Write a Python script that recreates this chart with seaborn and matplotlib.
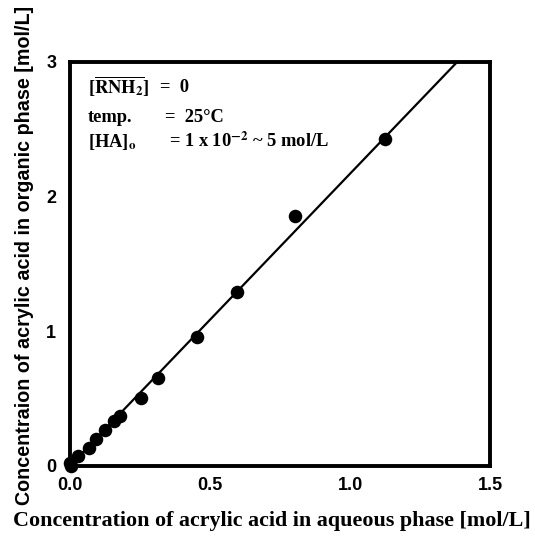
import matplotlib
matplotlib.use("Agg")
import matplotlib.pyplot as plt
import seaborn as sns
import pandas as pd

# Equilibrium data: acrylic acid in aqueous vs organic phase
aqueous = [0.005, 0.0, 0.028, 0.066, 0.092, 0.123, 0.157, 0.178, 0.252, 0.314,
           0.453, 0.596, 0.803, 1.125]
organic = [0.0, 0.018, 0.069, 0.132, 0.200, 0.264, 0.330, 0.366, 0.506, 0.648,
           0.953, 1.289, 1.854, 2.426]

# Fitted distribution line through the origin
fit_x = [0.0, 1.45]
fit_slope = 2.17

x_ticks = [0.0, 0.5, 1.0, 1.5]
x_tick_labels = ["0.0", "0.5", "1.0", "1.5"]
y_ticks = [0, 1, 2, 3]
y_tick_labels = ["0", "1", "2", "3"]

sns.set_theme(style="white")
plt.rcParams.update({
    "mathtext.fontset": "stix",
    "text.color": "black",
    "axes.labelcolor": "black",
    "xtick.color": "black",
    "ytick.color": "black",
})

fig = plt.figure(figsize=(5.35, 5.39), dpi=100)
ax = fig.add_axes([0.131, 0.136, 0.785, 0.749])

df = pd.DataFrame({"aq": aqueous, "org": organic})
fit = pd.DataFrame({"x": fit_x, "y": [fit_slope * v for v in fit_x]})

sns.lineplot(data=fit, x="x", y="y", ax=ax, color="black", lw=1.6)
sns.scatterplot(data=df, x="aq", y="org", ax=ax, color="black", s=95,
                edgecolor="black", linewidth=0, zorder=3, clip_on=False)

ax.set_xlim(0, 1.5)
ax.set_ylim(0, 3)
ax.set_xticks(x_ticks)
ax.set_xticklabels(x_tick_labels)
ax.set_yticks(y_ticks)
ax.set_yticklabels(y_tick_labels)
ax.tick_params(direction="in", length=5, width=1.2, color="black",
               labelcolor="black", labelsize=13, pad=8)
ax.tick_params(axis="y", pad=10)
for lab in ax.get_xticklabels() + ax.get_yticklabels():
    lab.set_fontfamily("Liberation Sans")
    lab.set_fontweight("bold")

for sp in ax.spines.values():
    sp.set_linewidth(2.8)
    sp.set_color("black")

ax.set_xlabel("Concentration of acrylic acid in aqueous phase [mol/L]",
              family="Liberation Serif", fontweight="bold", fontsize=15.8,
              color="black")
ax.xaxis.set_label_coords(0.48, -0.112)
ax.set_ylabel("Concentraion of acrylic acid in organic phase [mol/L]",
              family="Liberation Sans", fontweight="bold", fontsize=14.2,
              color="black")
ax.yaxis.set_label_coords(-0.086, 0.52)

txt = dict(transform=ax.transAxes, family="Liberation Serif", fontsize=13.3,
           fontweight="bold", va="center", ha="left", color="black")
ax.text(0.043, 0.938, r"[$\overline{\mathbf{RNH}_\mathbf{2}}$]", **txt)
ax.text(0.213, 0.938, "=  0", **txt)
ax.text(0.043, 0.862, "temp.", **txt)
ax.text(0.226, 0.862, "=  25°C", **txt)
ax.text(0.043, 0.803, r"[HA]$_\mathbf{o}$", **txt)
ax.text(0.236, 0.803, r"= 1 x 10$^\mathbf{-2}$ ~ 5 mol/L", **txt)

fig.savefig("out.png", dpi=100)
